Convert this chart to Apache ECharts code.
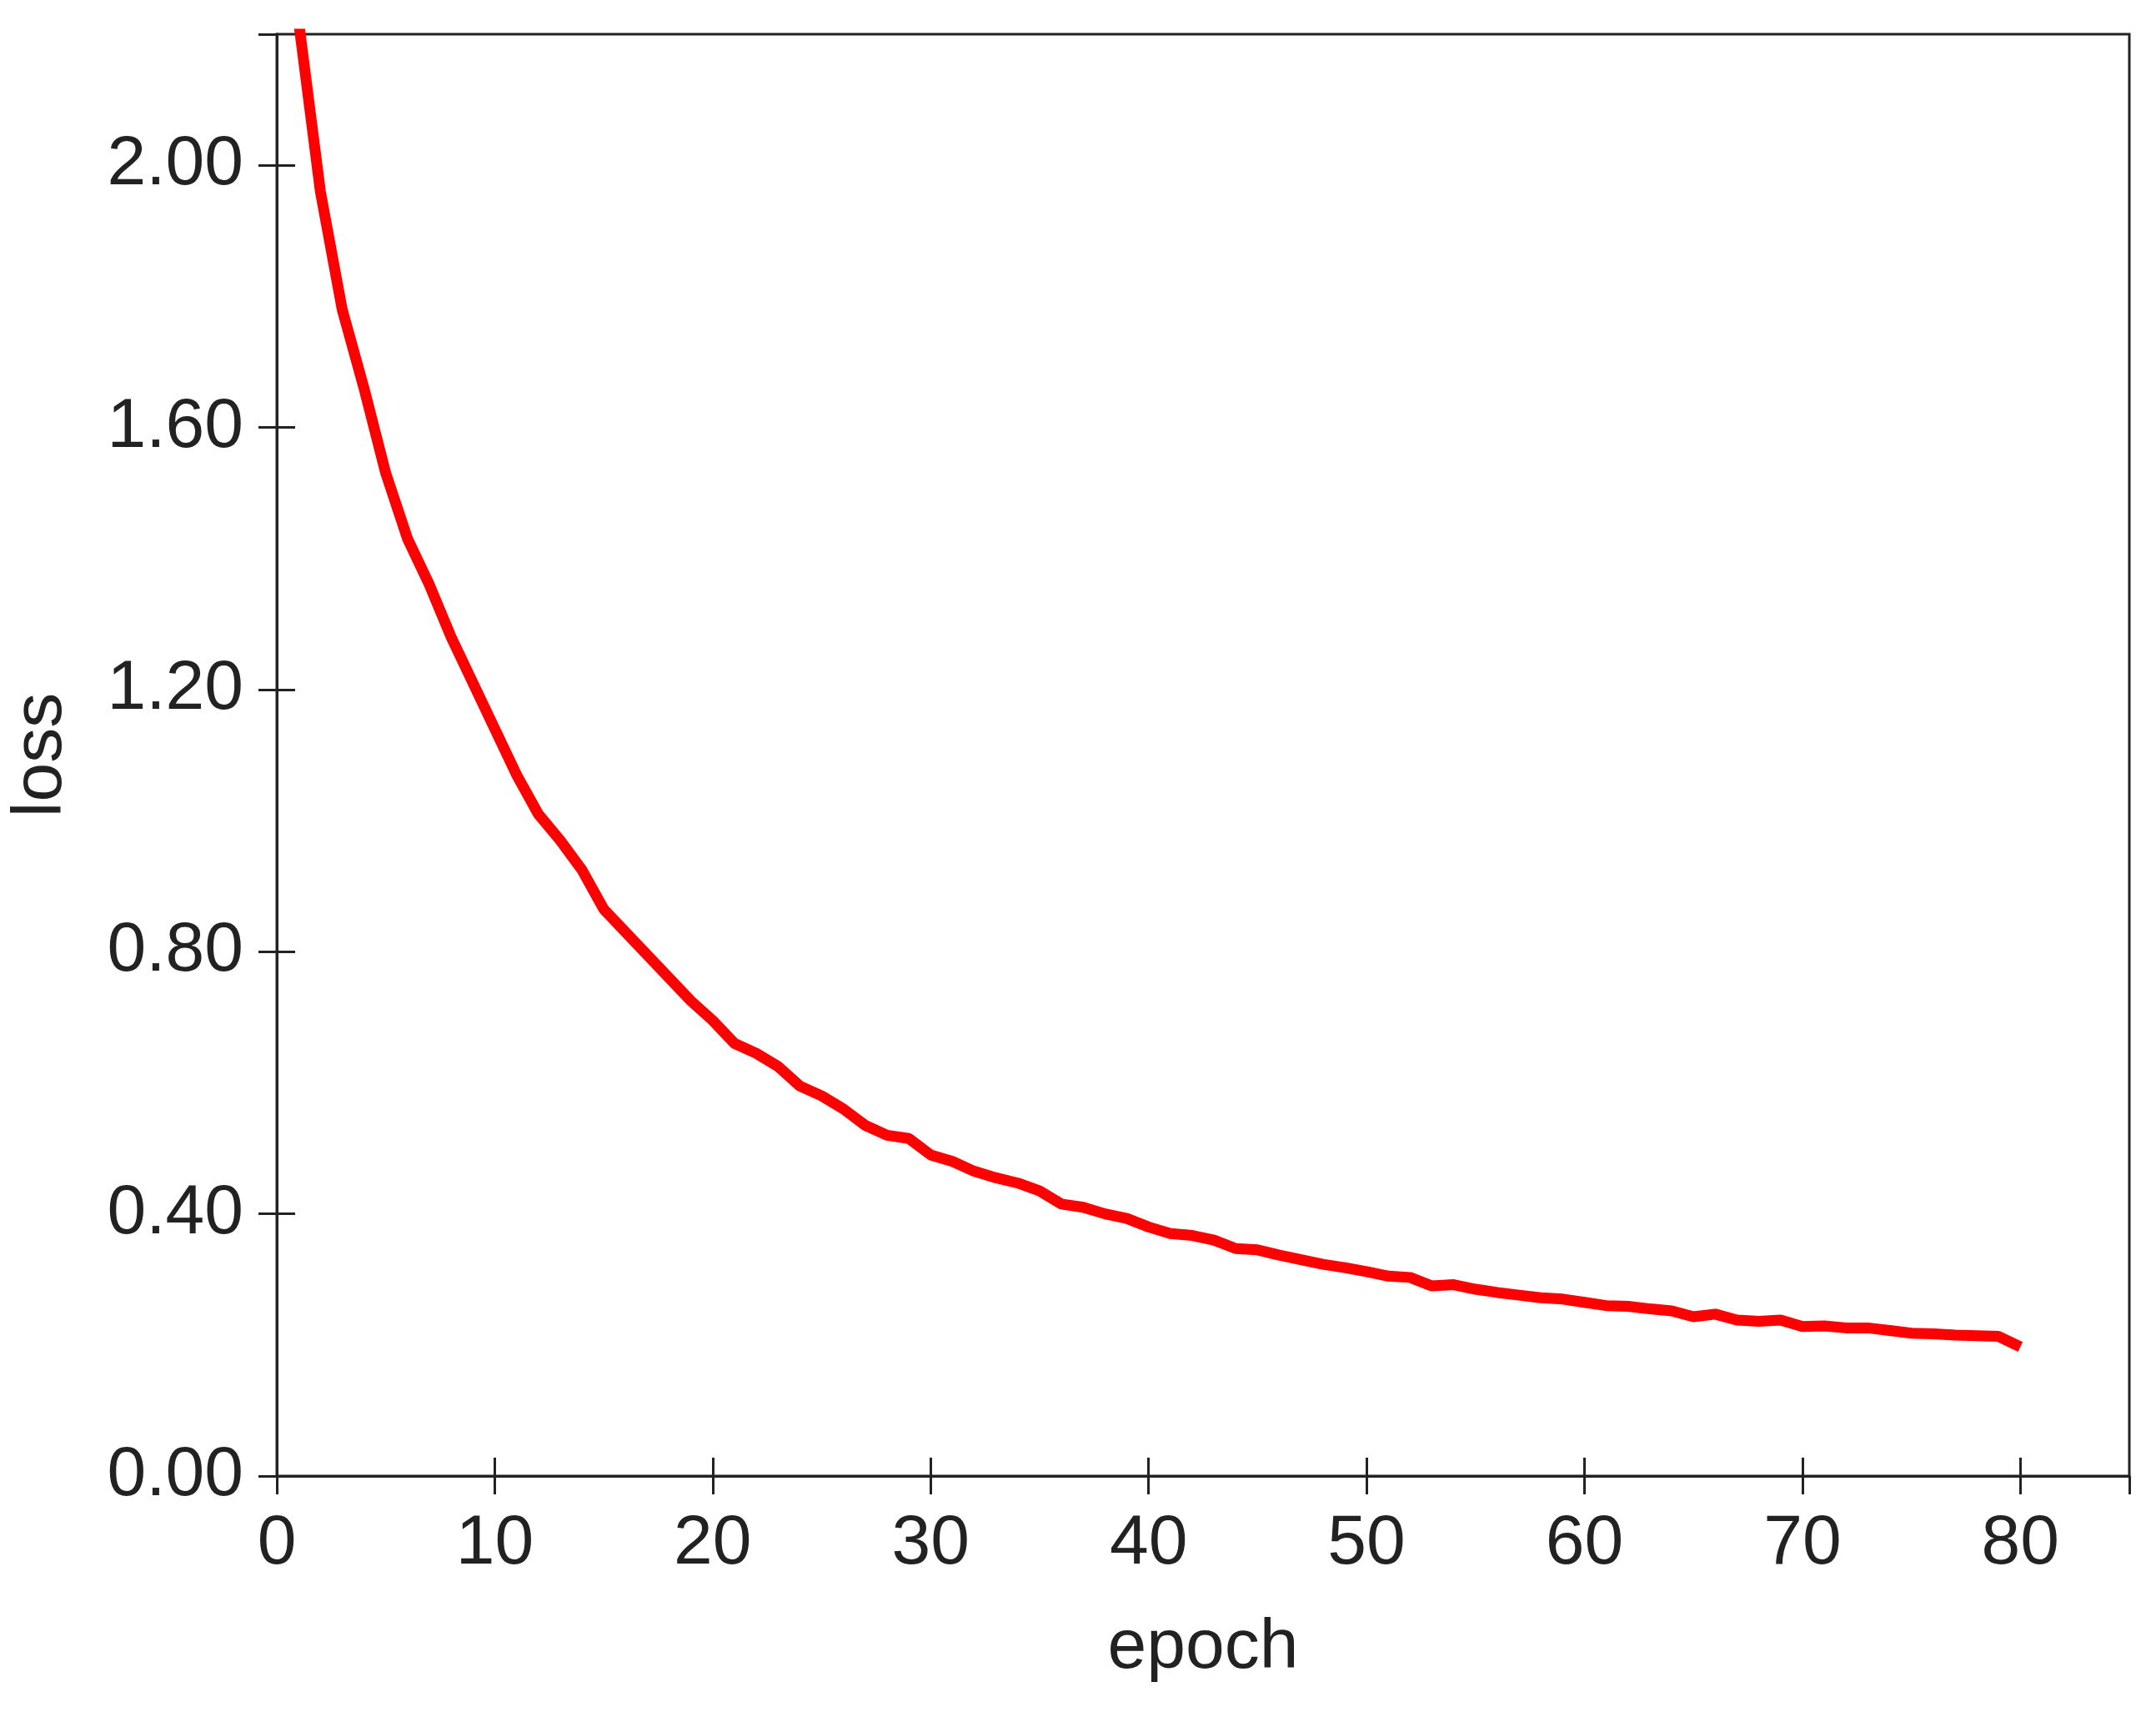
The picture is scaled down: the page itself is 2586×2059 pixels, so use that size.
<!DOCTYPE html>
<html>
<head>
<meta charset="utf-8">
<script src="https://cdn.jsdelivr.net/npm/echarts@6/dist/echarts.min.js"></script>
<style>html,body{margin:0;padding:0;background:#fff}#chart{width:2586px;height:2059px}</style>
</head>
<body>
<div id="chart"></div>
<script>
// loss per epoch
const epochs = Array.from({length: 80}, (_, i) => i + 1);
const loss = [
    2.22, 1.96, 1.78, 1.66, 1.53, 1.43, 1.36, 1.28, 1.21, 1.14,
    1.07, 1.01, 0.97, 0.925, 0.865, 0.83, 0.795, 0.76, 0.725, 0.695,
    0.66, 0.645, 0.625, 0.595, 0.58, 0.56, 0.535, 0.52, 0.515, 0.49,
    0.48, 0.465, 0.455, 0.447, 0.435, 0.415, 0.41, 0.40, 0.393, 0.38,
    0.37, 0.367, 0.36, 0.347, 0.345, 0.337, 0.33, 0.323, 0.318, 0.312,
    0.305, 0.303, 0.29, 0.292, 0.285, 0.28, 0.276, 0.272, 0.27, 0.265,
    0.26, 0.259, 0.255, 0.252, 0.243, 0.247, 0.238, 0.236, 0.238, 0.228,
    0.229, 0.226, 0.226, 0.222, 0.218, 0.217, 0.215, 0.214, 0.213, 0.197
];

const chart = echarts.init(document.getElementById('chart'));
const font = 'Liberation Sans';
const lineStyle = { color: '#222', width: 3 };
const tick = { show: true, inside: true, length: 22, lineStyle: lineStyle };

const options = {
    animation: false,
    grid: { left: 315, right: 32, top: 41, bottom: 289, show: true, borderColor: '#222', borderWidth: 3 },
    xAxis: [
        {
            type: 'value', min: 0, max: 85, interval: 10,
            name: 'epoch', nameLocation: 'middle', nameGap: 165,
            nameTextStyle: { fontFamily: font, fontSize: 84, color: '#222' },
            axisLine: { show: true, lineStyle: lineStyle }, axisTick: tick, splitLine: { show: false },
            axisLabel: { fontFamily: font, fontSize: 84, color: '#222', margin: 40, showMaxLabel: false }
        },
        {
            type: 'value', position: 'top', min: 0, max: 85, interval: 10, show: true,
            axisLine: { show: true, lineStyle: lineStyle }, axisTick: tick, splitLine: { show: false },
            axisLabel: { show: false }
        }
    ],
    yAxis: [
        {
            type: 'value', min: 0, max: 2.2, interval: 0.4,
            name: 'loss', nameLocation: 'middle', nameGap: 240,
            nameTextStyle: { fontFamily: font, fontSize: 84, color: '#222' },
            axisLine: { show: true, lineStyle: lineStyle }, axisTick: tick, splitLine: { show: false },
            axisLabel: { fontFamily: font, fontSize: 84, color: '#222', margin: 40,
                formatter: v => v.toFixed(2), showMaxLabel: false }
        },
        {
            type: 'value', position: 'right', min: 0, max: 2.2, interval: 0.4, show: true,
            axisLine: { show: true, lineStyle: lineStyle }, axisTick: tick, splitLine: { show: false },
            axisLabel: { show: false }
        }
    ],
    series: [
        {
            type: 'line',
            data: epochs.map((e, i) => [e, loss[i]]),
            showSymbol: false,
            clip: true,
            lineStyle: { color: '#ff0000', width: 13 }
        }
    ]
};

chart.setOption(options);
</script>
</body>
</html>
